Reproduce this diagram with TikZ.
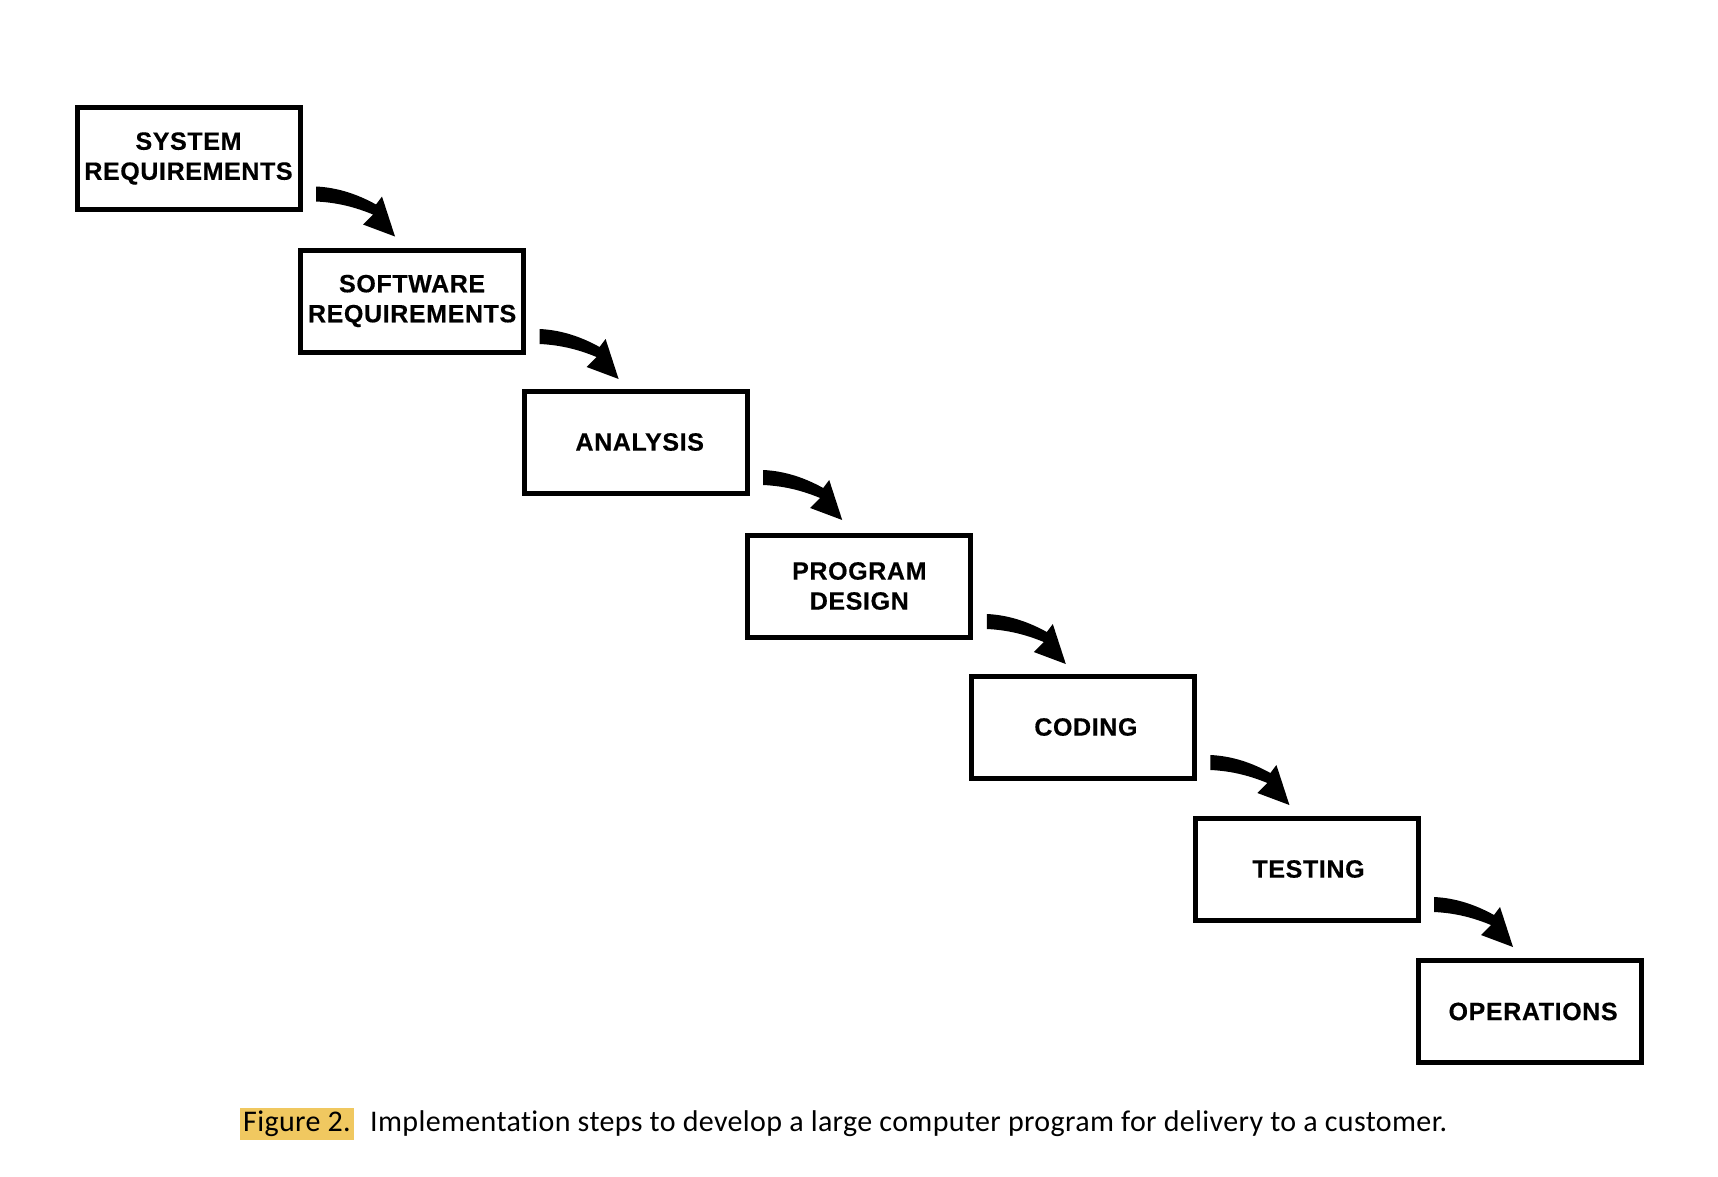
\documentclass[tikz,border=0pt]{standalone}
\usepackage{fontspec}
\setmainfont{Liberation Sans}
\newfontfamily\capfont[LetterSpace=1.2,Ligatures=NoCommon]{Carlito}
\newfontfamily\boxfont[LetterSpace=2.5,FakeBold=0.4]{Liberation Sans Bold}
\usetikzlibrary{calc}
\definecolor{hilite}{RGB}{240,200,96}
\tikzset{
  stepbox/.style={draw=black, line width=5pt, rectangle, minimum width=223pt,
    minimum height=102pt, inner sep=0pt, outer sep=0pt, align=center,
    font=\boxfont\fontsize{25}{30}\selectfont},
  captext/.style={anchor=base west, inner sep=0pt, font=\capfont\fontsize{30}{34}\selectfont},
  wfarrow/.pic={
    \fill[black] (0,0) .. controls (22,1) and (42,8) .. (60,18) -- (66,10) -- (79,50)
      -- (47,38) -- (57,28) .. controls (40,21) and (22,16) .. (0,15) -- cycle;
  }
}
\begin{document}
\begin{tikzpicture}[x=1pt,y=-1pt]
\useasboundingbox (0,0) rectangle (1718,1176);
\fill[white] (0,0) rectangle (1718,1176);
\node[stepbox] (b1) at (188.5,158.5) {SYSTEM\\REQUIREMENTS};
\node[stepbox] (b2) at (412.1,301) {SOFTWARE\\REQUIREMENTS};
\node[stepbox] (b3) at (635.7,442) {\hspace*{8pt}ANALYSIS};
\node[stepbox] (b4) at (859.3,586) {PROGRAM\\DESIGN};
\node[stepbox] (b5) at (1082.9,727) {\hspace*{6pt}CODING};
\node[stepbox] (b6) at (1306.5,869) {\hspace*{4pt}TESTING};
\node[stepbox] (b7) at (1530.1,1011.5) {\hspace*{6pt}OPERATIONS};
\foreach \a in {1,...,6}{
  \pic at ($(b\a.north east)+(16,79)$) {wfarrow};
}
\fill[hilite] (240,1108) rectangle (354,1140);
\node[captext] (fig) at (243,1131) {Figure 2.};
\node[captext] (cap) at (370,1131)
  {Implementation steps to develop a large computer program for delivery to a customer.};
\end{tikzpicture}
\end{document}
